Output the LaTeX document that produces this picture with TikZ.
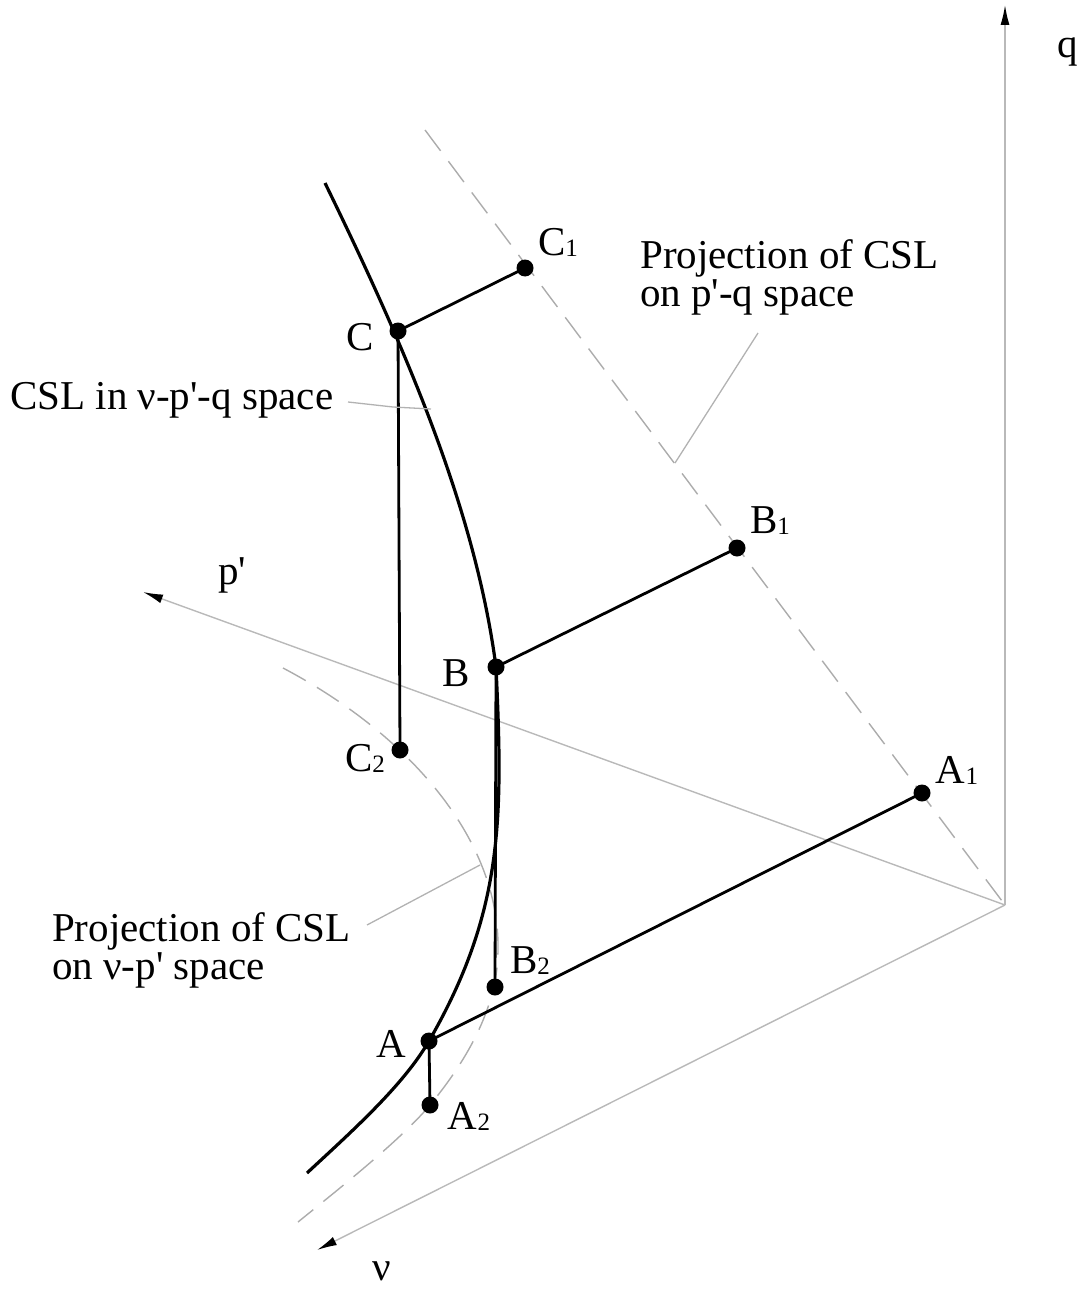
\documentclass[tikz,border=0pt]{standalone}
\usepackage{fontspec}
\setmainfont{Liberation Serif}
\usetikzlibrary{arrows.meta}
\newcommand\lowidx[1]{\raisebox{-1pt}{\fontsize{25}{25}\selectfont #1}}
\newcommand\apos{\textquotesingle}
\begin{document}
\begin{tikzpicture}[x=1pt,y=-1pt,
  axis/.style={draw=gray!55, line width=1.4pt, -{Latex[length=20pt,width=9pt,color=black]}},
  proj/.style={draw=gray!65, line width=1.4pt, dash pattern=on 26pt off 13pt},
  link/.style={draw=black, line width=2.8pt},
  csl/.style={draw=black, line width=3.2pt},
  lead/.style={draw=gray!60, line width=1.3pt},
  pt/.style={circle, fill=black, inner sep=0pt, minimum size=17pt},
  lbl/.style={font=\fontsize{41}{41}\selectfont, inner sep=0pt},
  txt/.style={font=\fontsize{41}{38}\selectfont, inner sep=0pt, anchor=base west, align=left}]
\useasboundingbox (0,0) rectangle (1086,1289);

% axes
\coordinate (O) at (1005,905);
\coordinate (qend) at (1005,5);
\coordinate (pend) at (143,592);
\coordinate (vend) at (317,1250);
\draw[axis] (O) -- (qend);
\draw[axis] (O) -- (pend);
\draw[axis] (O) -- (vend);
\node[lbl] (qlab) at (1068,52) {q};
\node[lbl] (plab) at (232,575) {p\apos};
\node[lbl] (vlab) at (382,1271) {ν};

% projection on p'-q space
\coordinate (pqtop) at (425,130);
\draw[proj] (pqtop) -- (O);

% projection on v-p' space
\coordinate (vp0) at (283,668);
\coordinate (vp1) at (498,950);
\coordinate (vp3) at (298,1222);
\draw[proj] (vp0) .. controls (410,735) and (500,840) .. (vp1)
  .. controls (498,1010) and (463,1065) .. (430,1105)
  .. controls (401,1140) and (335,1192) .. (vp3);

% CSL curve
\coordinate (cs0) at (325,183);
\coordinate (cs3) at (307,1173);
\draw[csl] (cs0) .. controls (403,343) and (475,507) .. (496,667)
  .. controls (503,817) and (504,911) .. (429,1041)
  .. controls (403,1086) and (350,1133) .. (cs3);

% points
\node[pt] (C) at (398,331) {};
\node[pt] (C1) at (525,268) {};
\node[pt] (C2) at (400,750) {};
\node[pt] (B) at (496,667) {};
\node[pt] (B1) at (737,548) {};
\node[pt] (B2) at (495,987) {};
\node[pt] (A) at (429,1041) {};
\node[pt] (A1) at (922,793) {};
\node[pt] (A2) at (430,1105) {};

\draw[link] (C.center) -- (C1.center);
\draw[link] (C.center) -- (C2.center);
\draw[link] (B.center) -- (B1.center);
\draw[link] (B.center) -- (B2.center);
\draw[link] (A.center) -- (A1.center);
\draw[link] (A.center) -- (A2.center);

% point labels
\node[lbl] (lC) at (360,337) {C};
\node[lbl] (lC1) at (558,242) {C\lowidx{1}};
\node[lbl] (lC2) at (365,758) {C\lowidx{2}};
\node[lbl] (lB) at (456,673) {B};
\node[lbl] (lB1) at (770,521) {B\lowidx{1}};
\node[lbl] (lB2) at (530,961) {B\lowidx{2}};
\node[lbl] (lA) at (391,1044) {A};
\node[lbl] (lA1) at (957,770) {A\lowidx{1}};
\node[lbl] (lA2) at (469,1116) {A\lowidx{2}};

% descriptive texts
\node[txt] (t1) at (640,306) {Projection of CSL\\on p\apos-q space};
\node[txt] (t2) at (10,409) {CSL in ν-p\apos-q space};
\node[txt] (t3) at (52,979) {Projection of CSL\\on ν-p\apos{} space};

% leaders
\coordinate (l1s) at (758,333);
\coordinate (l1e) at (675,463);
\draw[lead] (l1s) -- (l1e);
\coordinate (l2s) at (348,402);
\coordinate (l2m) at (393,407);
\coordinate (l2e) at (431,409);
\draw[lead] (l2s) -- (l2m) -- (l2e);
\coordinate (l3s) at (367,925);
\coordinate (l3e) at (480,865);
\draw[lead] (l3s) -- (l3e);
\end{tikzpicture}
\end{document}
